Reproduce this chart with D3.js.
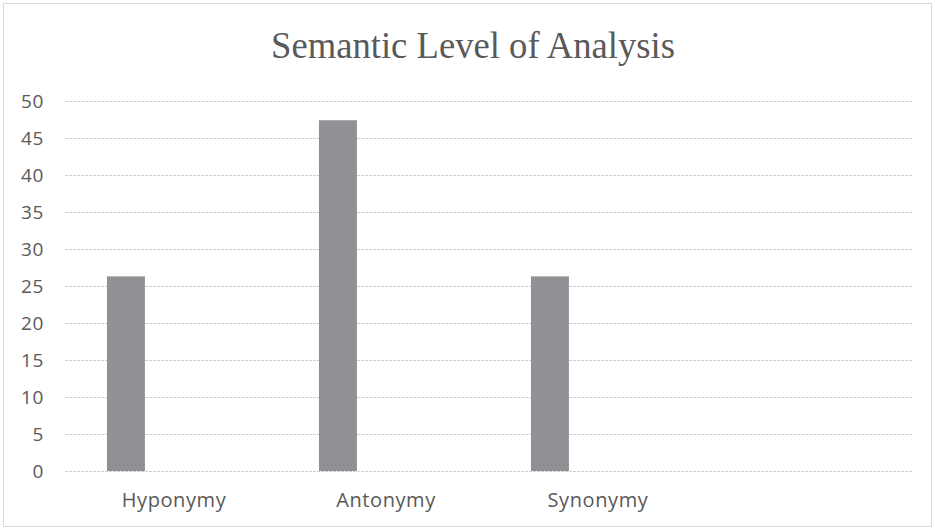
<!DOCTYPE html>
<html><head><meta charset="utf-8">
<script src="https://cdn.jsdelivr.net/npm/d3@7/dist/d3.min.js"></script>
<style>body{margin:0;background:#fff}svg{display:block}</style>
</head><body>
<svg id="c" width="935" height="530"></svg>
<script>
const title = "Semantic Level of Analysis";
const categories = ["Hyponymy", "Antonymy", "Synonymy"];
const values = [26.3, 47.4, 26.3];
const yTicks = [0, 5, 10, 15, 20, 25, 30, 35, 40, 45, 50];
const slotCount = 4; // the category axis has one empty slot on the right

const svg = d3.select("#c");
const W = 935, H = 530;
const m = {left: 65, right: 22, top: 101, bottom: 59};

svg.append("rect").attr("x", 3.5).attr("y", 3.5).attr("width", W - 7).attr("height", H - 7)
  .attr("fill", "#fff").attr("stroke", "#d9d9d9");

const x = d3.scaleBand().domain(d3.range(slotCount)).range([m.left, W - m.right]).padding(0);
const y = d3.scaleLinear().domain([0, 50]).range([H - m.bottom, m.top]);

// gridlines
svg.append("g").selectAll("line").data(yTicks).join("line")
  .attr("x1", m.left).attr("x2", W - m.right)
  .attr("y1", d => Math.round(y(d)) + 0.5).attr("y2", d => Math.round(y(d)) + 0.5)
  .attr("stroke", "#cfcfcf").attr("stroke-width", 1).attr("stroke-dasharray", "3,1");

// y axis labels
const yAxis = d3.axisLeft(y).tickValues(yTicks).tickSize(0).tickPadding(0);
const ya = svg.append("g").attr("transform", `translate(${m.left - 21},0)`).call(yAxis);
ya.select(".domain").remove();
ya.selectAll("text").attr("font-family", "'Open Sans', sans-serif").attr("font-size", 19)
  .attr("letter-spacing", 0.6)
  .attr("fill", "#595959").attr("dy", "0.36em");

// bars
const bw = x.bandwidth();
svg.append("g").selectAll("rect").data(values).join("rect")
  .attr("x", (d, i) => x(i) + bw * 0.198)
  .attr("width", bw * 0.179)
  .attr("y", d => y(d))
  .attr("height", d => y(0) - y(d))
  .attr("fill", "#909195");

// category labels
const xAxis = d3.axisBottom(x).tickValues(d3.range(categories.length))
  .tickFormat(i => categories[i]).tickSize(0).tickPadding(0);
const xa = svg.append("g").attr("transform", `translate(3,${H - m.bottom + 36})`).call(xAxis);
xa.select(".domain").remove();
xa.selectAll("text").attr("font-family", "'Open Sans', sans-serif").attr("font-size", 20)
  .attr("letter-spacing", 0.6)
  .attr("fill", "#595959").attr("dy", "0");

// title
svg.append("text").attr("x", 473).attr("y", 58).attr("text-anchor", "middle")
  .attr("font-family", "'Liberation Serif', 'Times New Roman', serif").attr("font-size", 37)
  .attr("fill", "#595959").attr("textLength", 404).attr("lengthAdjust", "spacingAndGlyphs")
  .text(title);
</script>
</body></html>
